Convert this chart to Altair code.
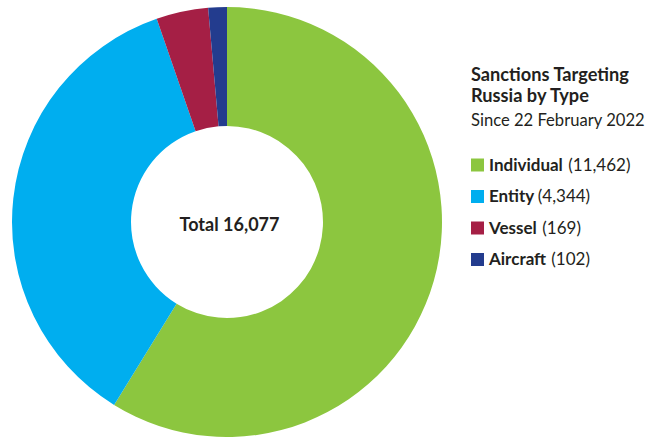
import altair as alt
import pandas as pd

# ---- data ----
types = ["Individual", "Entity", "Vessel", "Aircraft"]
counts = [11462, 4344, 169, 102]
# share of the ring as drawn in the picture (percent of the full circle)
ring_share = [58.8, 35.9, 3.9, 1.4]
colors = ["#8CC63F", "#00AEEF", "#A51F45", "#233C8E"]
total_label = "Total 16,077"
title_lines = ["Sanctions Targeting", "Russia by Type"]
subtitle = "Since 22 February 2022"

FONT = "Lato"
TXT = "#231F20"
LEG_SIZE = 17

# approximate bold glyph advances (em) to place the count after each bold name
_w = {"I": .28, "n": .56, "d": .56, "i": .24, "v": .50, "u": .56, "a": .50, "l": .24,
      "E": .52, "t": .34, "y": .50, "V": .66, "e": .51, "s": .42, "A": .66, "r": .37,
      "c": .46, "f": .33}


def text_w(s, size):
    return sum(_w.get(ch, .55) for ch in s) * size * 1.03


df = pd.DataFrame({
    "type": types,
    "count": counts,
    "share": ring_share,
    "idx": list(range(len(types))),
})
df["count_label"] = ["(" + f"{c:,}" + ")" for c in counts]
df["name_w"] = [text_w(t, LEG_SIZE) for t in types]

color_scale = alt.Scale(domain=types, range=colors)

ring = alt.Chart(df).mark_arc(outerRadius=215, innerRadius=96).encode(
    theta=alt.Theta("share:Q", stack=True),
    color=alt.Color("type:N", scale=color_scale, legend=None),
    order=alt.Order("idx:Q"),
    x=alt.value(227),
    y=alt.value(222),
)

center = alt.Chart(pd.DataFrame({"t": [total_label]})).mark_text(
    font=FONT, fontSize=18, fontWeight="bold", color=TXT, align="center", baseline="alphabetic"
).encode(text="t:N", x=alt.value(229.5), y=alt.value(231))

title_df = pd.DataFrame({"t": title_lines, "i": list(range(len(title_lines)))})
title = alt.Chart(title_df).transform_calculate(
    yy="80.5 + datum.i * 21"
).mark_text(
    font=FONT, fontSize=18.2, fontWeight="bold", color=TXT, align="left", baseline="alphabetic"
).encode(text="t:N", x=alt.value(471), y=alt.Y("yy:Q", scale=None))

sub = alt.Chart(pd.DataFrame({"t": [subtitle]})).mark_text(
    font=FONT, fontSize=16.6, color=TXT, align="left", baseline="alphabetic"
).encode(text="t:N", x=alt.value(471), y=alt.value(126))

legend_base = alt.Chart(df).transform_calculate(
    ysq="165 + datum.idx * 31.5",
    ytx="170.5 + datum.idx * 31.5",
    xcount="489 + datum.name_w + 5",
)

squares = legend_base.mark_square(size=169, opacity=1).encode(
    x=alt.value(477.5),
    y=alt.Y("ysq:Q", scale=None),
    color=alt.Color("type:N", scale=color_scale, legend=None),
)

names = legend_base.mark_text(
    font=FONT, fontSize=LEG_SIZE, fontWeight="bold", color=TXT, align="left", baseline="alphabetic"
).encode(text="type:N", x=alt.value(489), y=alt.Y("ytx:Q", scale=None))

nums = legend_base.mark_text(
    font=FONT, fontSize=LEG_SIZE, color=TXT, align="left", baseline="alphabetic"
).encode(text="count_label:N", x=alt.X("xcount:Q", scale=None), y=alt.Y("ytx:Q", scale=None))

chart = alt.layer(ring, center, title, sub, squares, names, nums).properties(
    width=653, height=437, padding=0, autosize=alt.AutoSizeParams(type="none"),
    background="white",
).configure_view(stroke=None)

chart.save("out.html", embed_options={"renderer": "svg", "actions": False})
